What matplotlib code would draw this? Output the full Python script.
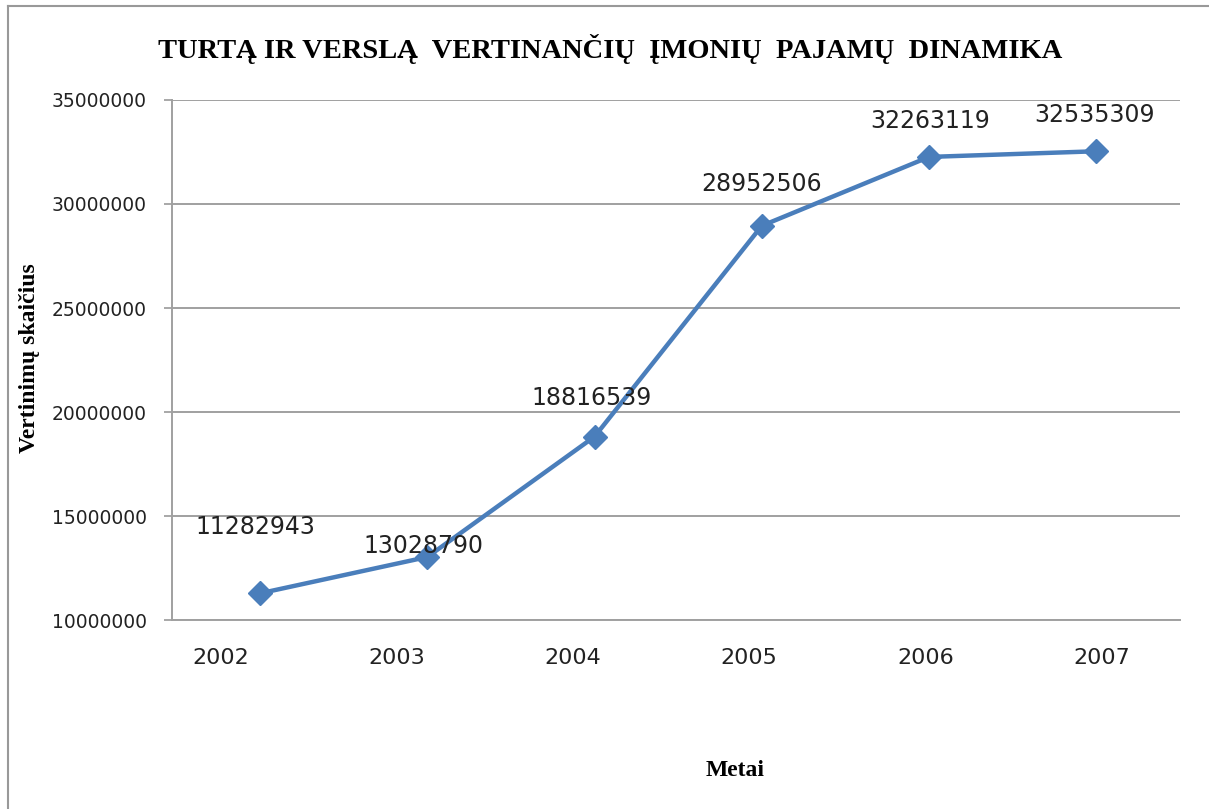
import matplotlib.pyplot as plt
from matplotlib.lines import Line2D
import numpy as np

# data
years = ['2002', '2003', '2004', '2005', '2006', '2007']
revenue = [11282943, 13028790, 18816539, 28952506, 32263119, 32535309]
yticks = [10000000, 15000000, 20000000, 25000000, 30000000, 35000000]

# label offsets in points (dx, dy)
label_offsets = [(-3, 48), (-3, 8), (-2, 28), (0, 30), (1, 26), (-1, 26)]

fig = plt.figure(figsize=(12.09, 8.09), dpi=100)
ax = fig.add_axes([0.1423, 0.2336, 0.8337, 0.6428])

x = np.arange(len(years))
ax.plot(x, revenue, color='#4a7ebb', linewidth=3.2, marker='D',
        markersize=12, zorder=3)

for xi, v, (dx, dy) in zip(x, revenue, label_offsets):
    ax.annotate(str(v), (xi, v), xytext=(dx, dy), textcoords='offset points',
                ha='center', va='center', fontsize=17, color='#222222',
                family='DejaVu Sans')

ax.set_xlim(-0.526, 5.50)
ax.set_ylim(10000000, 35000000)
ax.set_yticks(yticks)
ax.set_yticklabels([str(t) for t in yticks], fontsize=13.5, color='#222222')
ax.set_xticks(x * 1.0526 - 0.233)
ax.set_xticklabels(years, fontsize=16, color='#222222')
ax.tick_params(axis='x', length=0, pad=20)
ax.tick_params(axis='y', length=6, width=1.2, color='#999999', pad=12)

ax.grid(axis='y', color='#a0a0a0', linewidth=1.4)
ax.set_axisbelow(True)
for s in ['top', 'right']:
    ax.spines[s].set_visible(False)
for s in ['left', 'bottom']:
    ax.spines[s].set_color('#a0a0a0')
    ax.spines[s].set_linewidth(1.4)

fig.text(0.505, 0.94, 'TURTĄ IR VERSLĄ  VERTINANČIŲ  ĮMONIŲ  PAJAMŲ  DINAMIKA',
         ha='center', va='center', fontsize=20.5, fontweight='bold',
         family='Liberation Serif')
fig.text(0.024, 0.557, 'Vertinimų skaičius', rotation=90, ha='center',
         va='center', fontsize=17, fontweight='bold', family='Liberation Serif')
fig.text(0.608, 0.048, 'Metai', ha='center', va='center', fontsize=17,
         fontweight='bold', family='Liberation Serif')

# outer frame
fig.add_artist(Line2D([0.007, 1.0], [0.993, 0.993], color='#999999', linewidth=1.5))
fig.add_artist(Line2D([0.007, 0.007], [0.0, 0.993], color='#999999', linewidth=1.5))

fig.savefig('out.png', dpi=100, facecolor='white')
